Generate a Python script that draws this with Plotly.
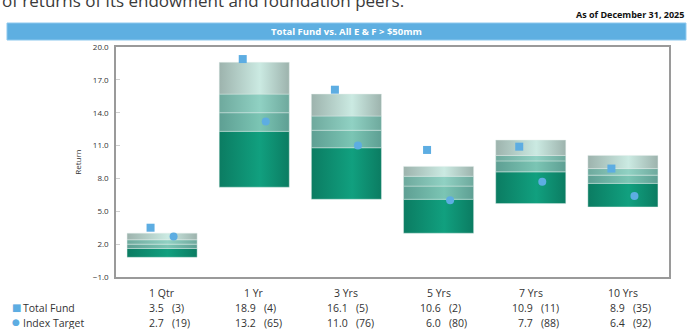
import plotly.graph_objects as go

categories = ["1 Qtr", "1 Yr", "3 Yrs", "5 Yrs", "7 Yrs", "10 Yrs"]
p95 = [3.0, 18.6, 15.7, 9.1, 11.5, 10.1]
p75 = [2.4, 15.7, 13.7, 8.2, 10.1, 8.9]
p50 = [2.0, 14.0, 12.4, 7.3, 9.6, 8.3]
p25 = [1.6, 12.3, 10.8, 6.1, 8.6, 7.55]
p5 = [0.8, 7.2, 6.1, 3.0, 5.7, 5.4]
total_fund = [3.5, 18.9, 16.1, 10.6, 10.9, 8.9]
total_fund_rank = [3, 4, 5, 2, 11, 35]
index_target = [2.7, 13.2, 11.0, 6.0, 7.7, 6.4]
index_target_rank = [19, 65, 76, 80, 88, 92]

BLUE = "#5DADE2"
TXT = "#333333"
FONT = "Open Sans"

# band styles (edge colour, centre colour), bottom to top
band_styles = [
    ("#0B7C62", "#11A07F"),
    ("#5E9F93", "#7BC5B4"),
    ("#6EA99D", "#90D1C3"),
    ("#9DB3AD", "#CBEAE2"),
]

HALF = 0.38
fig = go.Figure()

for i, cat in enumerate(categories):
    levels = [p5[i], p25[i], p50[i], p75[i], p95[i]]
    for j in range(4):
        lo, hi = levels[j], levels[j + 1]
        edge, centre = band_styles[j]
        fig.add_trace(go.Scatter(
            x=[i - HALF, i + HALF, i + HALF, i - HALF, i - HALF],
            y=[lo, lo, hi, hi, lo],
            mode="lines",
            fill="toself",
            fillgradient=dict(type="horizontal",
                              colorscale=[[0, edge], [0.58, centre], [1, edge]]),
            line=dict(color="rgba(225,238,235,0.7)", width=0.6),
            hoverinfo="skip",
            showlegend=False,
        ))

fig.add_trace(go.Scatter(
    x=[i - 0.125 for i in range(len(categories))],
    y=total_fund,
    mode="markers",
    marker=dict(symbol="square", size=8, color=BLUE),
    name="Total Fund", showlegend=False,
))
fig.add_trace(go.Scatter(
    x=[i + 0.125 for i in range(len(categories))],
    y=index_target,
    mode="markers",
    marker=dict(symbol="circle", size=8, color=BLUE),
    name="Index Target", showlegend=False,
))

ann = []
for i, cat in enumerate(categories):
    ann.append(dict(x=i, y=0, xref="x", yref="paper", yshift=-16, text=cat,
                    showarrow=False, xanchor="center", yanchor="middle",
                    font=dict(family=FONT, size=10.5, color=TXT)))
    for vals, ranks, ys in ((total_fund, total_fund_rank, -31),
                            (index_target, index_target_rank, -45.5)):
        ann.append(dict(x=i, y=0, xref="x", yref="paper", yshift=ys, xshift=4,
                        text=f"{vals[i]:.1f}", showarrow=False,
                        xanchor="right", yanchor="middle",
                        font=dict(family=FONT, size=10.5, color=TXT)))
        ann.append(dict(x=i, y=0, xref="x", yref="paper", yshift=ys, xshift=8,
                        text=f"({ranks[i]})", showarrow=False,
                        xanchor="left", yanchor="middle",
                        font=dict(family=FONT, size=10.5, color=TXT)))

for label, sym, size, ys in (("Total Fund", "■", 10, -31), ("Index Target", "●", 9, -45.5)):
    ann.append(dict(x=0, y=0, xref="paper", yref="paper", xshift=-106, yshift=ys + 1,
                    text=sym, showarrow=False, xanchor="left", yanchor="middle",
                    font=dict(family="DejaVu Sans", size=size, color=BLUE)))
    ann.append(dict(x=0, y=0, xref="paper", yref="paper", xshift=-95, yshift=ys,
                    text=label, showarrow=False, xanchor="left", yanchor="middle",
                    font=dict(family=FONT, size=10.5, color=TXT)))

# header texts (the first line is cut off by the top edge, as in the source)
ann.append(dict(x=-0.21, y=1.2022, xref="paper", yref="paper",
                text="of returns of its endowment and foundation peers.",
                showarrow=False, xanchor="left", yanchor="middle",
                font=dict(family=FONT, size=17, color="#3a3a3a")))
ann.append(dict(x=1.031, y=1.143, xref="paper", yref="paper",
                text="<b>As of December 31, 2025</b>",
                showarrow=False, xanchor="right", yanchor="middle",
                font=dict(family=FONT, size=9, color="#111111")))
ann.append(dict(x=0.416, y=1.067, xref="paper", yref="paper",
                text="<b>Total Fund vs. All E & F > $50mm</b>",
                showarrow=False, xanchor="center", yanchor="middle",
                font=dict(family=FONT, size=9.5, color="#ffffff")))

fig.update_layout(
    width=695, height=329,
    margin=dict(l=116, r=26, t=47, b=52),
    paper_bgcolor="white", plot_bgcolor="white",
    annotations=ann,
    shapes=[dict(type="rect", xref="paper", yref="paper",
                 x0=-0.1971, x1=1.0307, y0=1.0304, y1=1.1043,
                 fillcolor="#5EAFE1", line=dict(color="#8CC8EE", width=1),
                 layer="below")],
    xaxis=dict(range=[-0.5, 5.5], showticklabels=False, ticks="",
               showgrid=False, zeroline=False, showline=True, mirror=True,
               linecolor="#9a9a9a", linewidth=1.5),
    yaxis=dict(range=[-1, 20], tick0=-1, dtick=3, tickformat=".1f",
               ticks="inside", ticklen=4, tickcolor="#d0d0d0",
               showgrid=False, zeroline=False, showline=True, mirror=True,
               linecolor="#9a9a9a", linewidth=1.5, ticklabelstandoff=4,
               tickfont=dict(family=FONT, size=8, color=TXT),
               title=dict(text="Return", standoff=10,
                          font=dict(family=FONT, size=8, color=TXT))),
)

fig.write_html("out.html")
